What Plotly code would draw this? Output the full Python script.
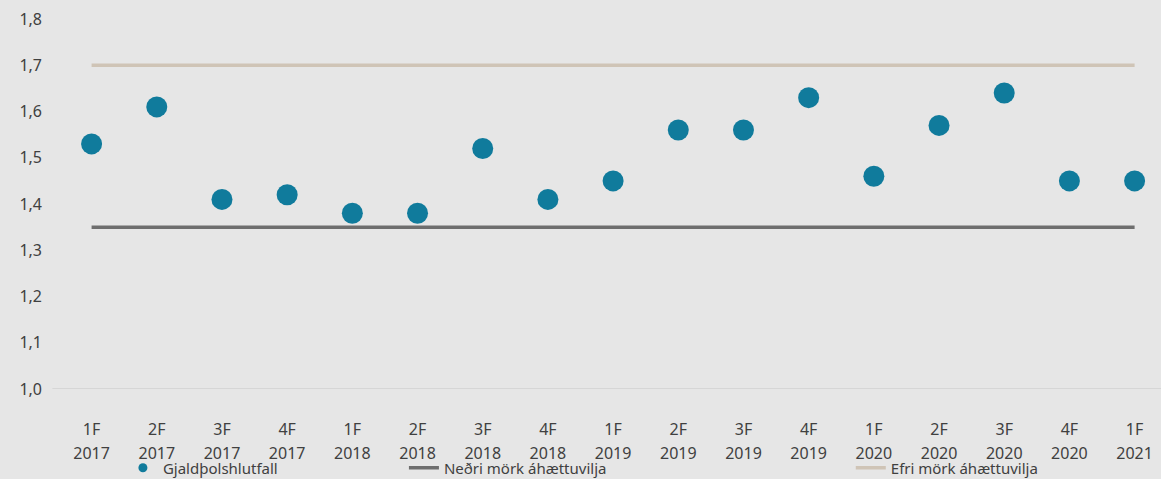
import plotly.graph_objects as go

quarters = ["1F", "2F", "3F", "4F", "1F", "2F", "3F", "4F", "1F",
            "2F", "3F", "4F", "1F", "2F", "3F", "4F", "1F"]
years = ["2017", "2017", "2017", "2017", "2018", "2018", "2018", "2018", "2019",
         "2019", "2019", "2019", "2020", "2020", "2020", "2020", "2021"]
solvency_ratio = [1.53, 1.61, 1.41, 1.42, 1.38, 1.38, 1.52, 1.41, 1.45,
                  1.56, 1.56, 1.63, 1.46, 1.57, 1.64, 1.45, 1.45]
lower_limit = [1.35, 1.35, 1.35, 1.35, 1.35, 1.35, 1.35, 1.35, 1.35,
               1.35, 1.35, 1.35, 1.35, 1.35, 1.35, 1.35, 1.35]
upper_limit = [1.70, 1.70, 1.70, 1.70, 1.70, 1.70, 1.70, 1.70, 1.70,
               1.70, 1.70, 1.70, 1.70, 1.70, 1.70, 1.70, 1.70]
y_ticks = [1.0, 1.1, 1.2, 1.3, 1.4, 1.5, 1.6, 1.7, 1.8]

names = ["Gjaldþolshlutfall", "Neðri mörk áhættuvilja", "Efri mörk áhættuvilja"]

pos = list(range(len(quarters)))

BG = "#E6E6E6"
TXT = "#404040"
BLUE = "#107B9C"
FONT = "Noto Sans"

fig = go.Figure()

fig.add_trace(go.Scatter(x=pos, y=lower_limit, mode="lines", name=names[1],
                         line=dict(color="#6E6E6E", width=3.5),
                         legend="legend2", hoverinfo="skip"))
fig.add_trace(go.Scatter(x=pos, y=upper_limit, mode="lines", name=names[2],
                         line=dict(color="#CFC4B6", width=3.5),
                         legend="legend3", hoverinfo="skip"))
fig.add_trace(go.Scatter(x=pos, y=solvency_ratio, mode="markers", name=names[0],
                         marker=dict(color=BLUE, size=21, line=dict(width=0)),
                         showlegend=False))
# legend-only entry with a small dot (as in the reference legend)
fig.add_trace(go.Scatter(x=[None], y=[None], mode="markers", name=names[0],
                         marker=dict(color=BLUE, size=9), legend="legend",
                         xaxis="x2"))

xrange = [-0.5, 16.405]
LEG_Y = -0.2135
LEG_FONT = dict(family=FONT, size=15, color=TXT)

fig.update_layout(
    width=1161, height=479,
    paper_bgcolor=BG, plot_bgcolor=BG,
    margin=dict(l=59, r=0, t=19, b=90, autoexpand=False),
    separators=", ",
    font=dict(family=FONT, size=16, color=TXT),
    xaxis=dict(range=xrange, tickvals=pos, ticktext=quarters,
               showgrid=False, zeroline=False, showline=False, automargin=False,
               ticks="", ticklabelstandoff=29,
               tickfont=dict(family=FONT, size=16, color=TXT)),
    xaxis2=dict(range=xrange, tickvals=pos, ticktext=years,
                overlaying="x", anchor="y", side="bottom", automargin=False,
                showgrid=False, zeroline=False, showline=False,
                ticks="", ticklabelstandoff=53,
                tickfont=dict(family=FONT, size=16, color=TXT)),
    yaxis=dict(range=[1.0, 1.8], tickvals=y_ticks, tickformat=".1f",
               showgrid=False, zeroline=False, showline=False, automargin=False,
               ticks="", ticklabelstandoff=16,
               tickfont=dict(family=FONT, size=16, color=TXT)),
    showlegend=True,
    legend=dict(orientation="h", x=0.058, y=LEG_Y, xanchor="left", yanchor="middle",
                bgcolor="rgba(0,0,0,0)", font=LEG_FONT),
    legend2=dict(orientation="h", x=0.313, y=LEG_Y, xanchor="left", yanchor="middle",
                 bgcolor="rgba(0,0,0,0)", font=LEG_FONT),
    legend3=dict(orientation="h", x=0.7185, y=LEG_Y, xanchor="left", yanchor="middle",
                 bgcolor="rgba(0,0,0,0)", font=LEG_FONT),
    shapes=[dict(type="line", xref="paper", yref="y", x0=-0.006, x1=1.0,
                 y0=1.0, y1=1.0, line=dict(color="#D6D6D6", width=2), layer="below")],
)

fig.write_html("out.html", config={"displayModeBar": False},
               post_script="document.body.style.margin='0';document.body.style.overflow='hidden';")
